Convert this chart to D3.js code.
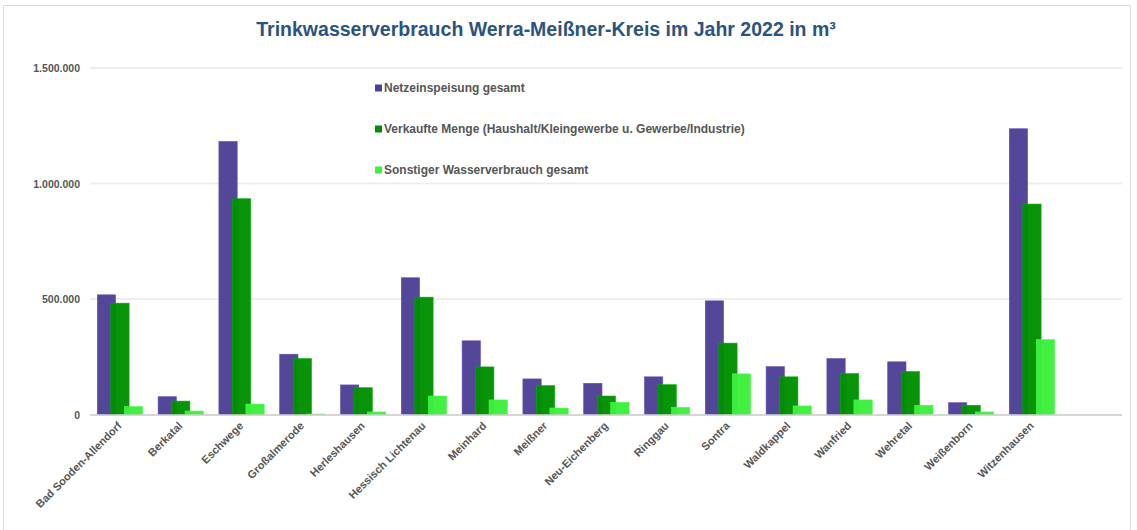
<!DOCTYPE html>
<html>
<head>
<meta charset="utf-8">
<script src="https://cdn.jsdelivr.net/npm/d3@7"></script>
<style>
  body { margin: 0; background: #fff; }
  text { font-family: "Liberation Sans", Arial, sans-serif; }
</style>
</head>
<body>
<div id="chart"></div>
<script>
var categories = ["Bad Sooden-Allendorf", "Berkatal", "Eschwege", "Großalmerode", "Herleshausen",
    "Hessisch Lichtenau", "Meinhard", "Meißner", "Neu-Eichenberg", "Ringgau", "Sontra",
    "Waldkappel", "Wanfried", "Wehretal", "Weißenborn", "Witzenhausen"];

var netzeinspeisung = [518000, 77000, 1182000, 261000, 128000, 592000, 319000, 154000, 135000,
    163000, 492000, 207000, 242000, 228000, 51000, 1237000];
var verkaufteMenge = [482000, 58000, 934000, 242000, 116000, 508000, 206000, 125000, 80000,
    129000, 309000, 163000, 177000, 186000, 40000, 911000];
var sonstiger = [34000, 15000, 45000, 2000, 11000, 80000, 63000, 28000, 53000,
    31000, 176000, 37000, 63000, 40000, 11000, 324000];

var seriesNames = ["Netzeinspeisung gesamt",
    "Verkaufte Menge (Haushalt/Kleingewerbe u. Gewerbe/Industrie)",
    "Sonstiger Wasserverbrauch gesamt"];
var seriesColors = ["#4e4096", "#008f00", "#3cf03c"];
var yTicks = [0, 500000, 1000000, 1500000];

var width = 1137, height = 530;
var plotLeft = 90, plotRight = 1122, plotTop = 68, plotBottom = 414.5;

var svg = d3.select("#chart").append("svg")
    .attr("width", width)
    .attr("height", height);

svg.append("rect")
    .attr("x", 3.5).attr("y", 5.5)
    .attr("width", 1127).attr("height", 530)
    .attr("fill", "#fff")
    .attr("stroke", "#dcdcdc");

svg.append("text")
    .attr("x", 546).attr("y", 36)
    .attr("text-anchor", "middle")
    .attr("font-size", 19.5)
    .attr("font-weight", "bold")
    .attr("fill", "#2a5382")
    .text("Trinkwasserverbrauch Werra-Meißner-Kreis im Jahr 2022 in m³");

var y = d3.scaleLinear().domain([0, 1500000]).range([plotBottom, plotTop]);
var x = d3.scaleBand().domain(categories).range([plotLeft, plotLeft + 16 * 60.8]).padding(0);

var fmt = function(v) { return d3.format(",")(v).replace(/,/g, "."); };

// grid
svg.append("g").selectAll("line")
    .data(yTicks.filter(function(d) { return d > 0; }))
    .enter().append("line")
    .attr("x1", plotLeft).attr("x2", plotRight)
    .attr("y1", function(d) { return y(d); })
    .attr("y2", function(d) { return y(d); })
    .attr("stroke", "#eeeeee")
    .attr("stroke-width", 2);

svg.append("g").selectAll("text")
    .data(yTicks)
    .enter().append("text")
    .attr("x", 80)
    .attr("y", function(d) { return y(d) + 4; })
    .attr("text-anchor", "end")
    .attr("font-size", 10.5)
    .attr("font-weight", "bold")
    .attr("fill", "#555")
    .text(function(d) { return fmt(d); });

// bars
var allSeries = [netzeinspeisung, verkaufteMenge, sonstiger];
var barW = 18.3, shift = 13.5, groupPad = 7.3;

allSeries.forEach(function(vals, s) {
    svg.append("g").selectAll("rect")
        .data(vals)
        .enter().append("rect")
        .attr("x", function(d, i) { return x(categories[i]) + groupPad + s * shift; })
        .attr("y", function(d) { return y(d); })
        .attr("width", barW)
        .attr("height", function(d) { return plotBottom - y(d); })
        .attr("fill", seriesColors[s])
        .attr("fill-opacity", 0.97)
        .attr("stroke", d3.color(seriesColors[s]).brighter(0.6))
        .attr("stroke-width", 0.6);
});

// x axis line
svg.append("line")
    .attr("x1", plotLeft).attr("x2", plotRight)
    .attr("y1", plotBottom + 0.5).attr("y2", plotBottom + 0.5)
    .attr("stroke", "#c8c8c8")
    .attr("stroke-width", 1.5);

svg.append("g").selectAll("text")
    .data(categories)
    .enter().append("text")
    .attr("transform", function(d) {
        return "translate(" + (x(d) + x.bandwidth() / 2 + 2) + "," + (plotBottom + 12) + ") rotate(-45)";
    })
    .attr("text-anchor", "end")
    .attr("font-size", 11)
    .attr("font-weight", "bold")
    .attr("fill", "#555")
    .text(function(d) { return d; });

// legend
var legend = svg.append("g").selectAll("g")
    .data(seriesNames)
    .enter().append("g")
    .attr("transform", function(d, i) { return "translate(375," + (88 + i * 41) + ")"; });

legend.append("rect")
    .attr("x", 0).attr("y", -3.5)
    .attr("width", 7).attr("height", 7)
    .attr("fill", function(d, i) { return seriesColors[i]; });

legend.append("text")
    .attr("x", 9).attr("y", 4)
    .attr("font-size", 12)
    .attr("font-weight", "bold")
    .attr("fill", "#555")
    .text(function(d) { return d; });
</script>
</body>
</html>
